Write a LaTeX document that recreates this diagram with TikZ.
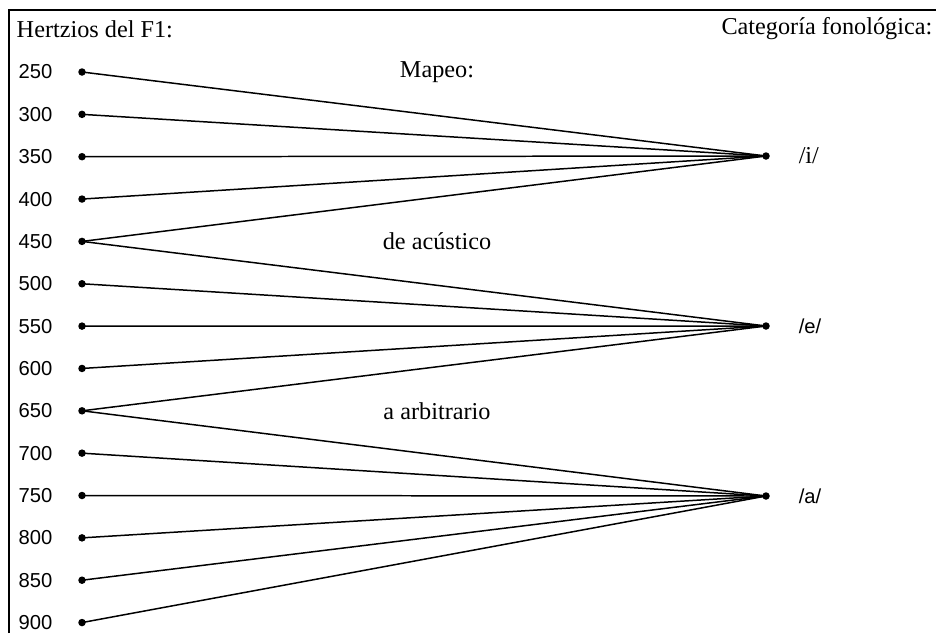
\documentclass[tikz,border=0pt]{standalone}
\usepackage{fontspec}
\setmainfont{Liberation Serif}
\newfontfamily\hzfont{Liberation Sans}
\usetikzlibrary{positioning}

\begin{document}
\begin{tikzpicture}[x=0.02cm,y=-0.02cm,font=\fontsize{13.8}{16}\selectfont,line width=0.85pt,
  dot/.style={circle,fill,inner sep=0pt,minimum size=0.15cm},
  hzlabel/.style={anchor=west,inner sep=0pt,font=\hzfont\fontsize{11.5}{13}\selectfont},
  sanslabel/.style={anchor=west,inner sep=0pt,font=\hzfont\fontsize{11.5}{13}\selectfont},
  seriflabel/.style={anchor=west,inner sep=0pt},
  midlabel/.style={inner sep=0pt}]

  \useasboundingbox (0,0) rectangle (936,633);

  % frame
  \draw (9,633) -- (9,10) -- (936,10);

  % headings
  \node[seriflabel] (hzhead) at (16,29) {Hertzios del F1:};
  \node[anchor=east,inner sep=0pt] (cathead) at (933,29) {Categoría fonológica:};

  % frequencies on the left
  \foreach \hz [count=\k from 0] in {250,300,...,900} {
    \node[dot] (h\hz) at (82,72+42.35*\k) {};
    \node[hzlabel] (l\hz) at (18,72+42.35*\k) {\hz};
  }

  % categories on the right
  \node[dot] (ci) at (766,156) {};
  \node[dot] (ce) at (766,326) {};
  \node[dot] (ca) at (766,496) {};
  \node[seriflabel] (li) at (798,156) {/i/};
  \node[sanslabel] (le) at (798,326) {/e/};
  \node[sanslabel] (la) at (798,496) {/a/};

  % middle texts
  \node[midlabel] (map1) at (437,72) {Mapeo:};
  \node[midlabel] (map2) at (437,241) {de acústico};
  \node[midlabel] (map3) at (437,411) {a arbitrario};

  % mapping lines
  \foreach \hz in {250,300,...,450}
    \draw (h\hz.center) -- (ci.center);
  \foreach \hz in {450,500,...,650}
    \draw (h\hz.center) -- (ce.center);
  \foreach \hz in {650,700,...,900}
    \draw (h\hz.center) -- (ca.center);

\end{tikzpicture}
\end{document}
